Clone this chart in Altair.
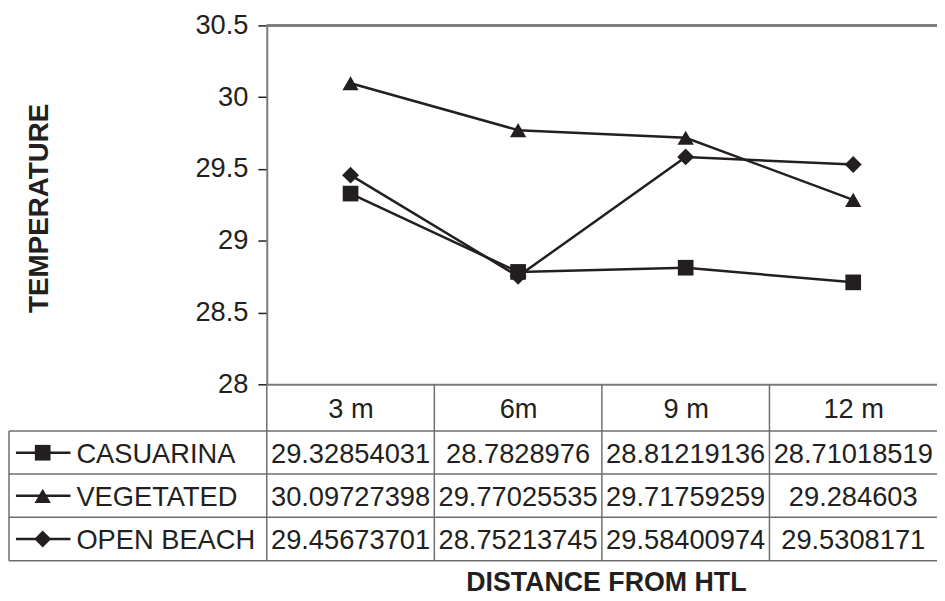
import altair as alt
import pandas as pd

categories = ["3 m", "6m", "9 m", "12 m"]
series = ["CASUARINA", "VEGETATED", "OPEN BEACH"]
casuarina = [29.32854031, 28.7828976, 28.81219136, 28.71018519]
vegetated = [30.09727398, 29.77025535, 29.71759259, 29.284603]
open_beach = [29.45673701, 28.75213745, 29.58400974, 29.5308171]
y_ticks = [28, 28.5, 29, 29.5, 30, 30.5]

rows = []
for s, vals in zip(series, [casuarina, vegetated, open_beach]):
    for c, v in zip(categories, vals):
        rows.append({"category": c, "series": s, "value": v})
df = pd.DataFrame(rows)
ser_df = pd.DataFrame({"series": series})
cat_df = pd.DataFrame({"category": categories})

INK = "#231f20"
GRID = "#6e6e6e"
AX = "#7a7a7a"
FONT = "Liberation Sans"
FS = 27.5

W, H = 676, 362
HALF = W / len(categories) / 2

xscale = alt.Scale(type="point", domain=categories, padding=0.5)
yscale = alt.Scale(domain=[28, 30.5], nice=False, zero=False)
rowscale = alt.Scale(type="point", domain=series, range=[431, 518], padding=0)
shape_scale = alt.Scale(domain=series, range=["square", "triangle-up", "diamond"])
size_scale = alt.Scale(domain=series, range=[250, 290, 230])

x_enc = alt.X("category:N", scale=xscale, sort=categories,
              axis=alt.Axis(title="DISTANCE FROM HTL", titleFont=FONT, titleFontSize=27,
                            titleFontWeight="bold", titleColor=INK, titleY=200,
                            titleX=342, titleBaseline="middle", titleAlign="center",
                            labelFont=FONT, labelFontSize=FS, labelColor=INK,
                            labelBaseline="middle", labelPadding=25, labelAngle=0,
                            ticks=False, domainColor=AX, domainWidth=2, grid=False))

lines = alt.Chart(df).mark_line(color=INK, strokeWidth=2.5).encode(
    x=x_enc,
    y=alt.Y("value:Q", scale=yscale,
            axis=alt.Axis(values=y_ticks, format="~g", title="TEMPERATURE",
                          titleFont=FONT, titleFontSize=28, titleFontWeight="bold",
                          titleColor=INK, titleAngle=270, titleX=-229, titleY=184,
                          titleAlign="center", titleBaseline="middle",
                          labelFont=FONT, labelFontSize=FS, labelColor=INK,
                          labelPadding=10, tickSize=9, tickColor=INK, tickWidth=1.5,
                          domainColor=AX, domainWidth=2, grid=False)),
    detail="series:N",
)

points = alt.Chart(df).mark_point(filled=True, opacity=1, color=INK).encode(
    x=alt.X("category:N", scale=xscale, sort=categories),
    y=alt.Y("value:Q", scale=yscale, axis=None),
    shape=alt.Shape("series:N", scale=shape_scale, legend=None),
    size=alt.Size("series:N", scale=size_scale, legend=None),
)

top_border = alt.Chart(cat_df).mark_rule(color=AX, strokeWidth=2).encode(
    y=alt.Y("top:Q", scale=yscale, axis=None),
    x=alt.value(0), x2=alt.value(W),
).transform_calculate(top="30.5")

row_lines = alt.Chart(ser_df).mark_rule(color=GRID, strokeWidth=1.5, yOffset=-22).encode(
    y=alt.Y("series:N", scale=rowscale, axis=None),
    x=alt.value(-260), x2=alt.value(W),
)
bottom_line = alt.Chart(ser_df).transform_filter(
    alt.datum.series == series[-1]
).mark_rule(color=GRID, strokeWidth=1.5, yOffset=22).encode(
    y=alt.Y("series:N", scale=rowscale, axis=None),
    x=alt.value(-260), x2=alt.value(W),
)
left_border = alt.Chart(ser_df).transform_filter(
    alt.datum.series == series[0]
).mark_rule(color=GRID, strokeWidth=1.5).encode(
    x=alt.value(-260), y=alt.value(409), y2=alt.value(540),
)
col_lines = alt.Chart(cat_df).mark_rule(color=GRID, strokeWidth=1.5, xOffset=-HALF).encode(
    x=alt.X("category:N", scale=xscale, sort=categories),
    y=alt.value(H), y2=alt.value(540),
)

cell_text = alt.Chart(df).mark_text(font=FONT, fontSize=FS, color=INK, dy=2,
                                    baseline="middle", align="center").encode(
    x=alt.X("category:N", scale=xscale, sort=categories),
    y=alt.Y("series:N", scale=rowscale, axis=None),
    text=alt.Text("value:Q", format=".10~g"),
)

row_labels = alt.Chart(ser_df).mark_text(font=FONT, fontSize=FS, color=INK, dy=2,
                                         baseline="middle", align="left").encode(
    x=alt.value(-192),
    y=alt.Y("series:N", scale=rowscale, axis=None),
    text="series:N",
)
legend_lines = alt.Chart(ser_df).mark_rule(color=INK, strokeWidth=2.5).encode(
    x=alt.value(-253), x2=alt.value(-198),
    y=alt.Y("series:N", scale=rowscale, axis=None),
)
legend_points = alt.Chart(ser_df).mark_point(filled=True, opacity=1, color=INK).encode(
    x=alt.value(-226),
    y=alt.Y("series:N", scale=rowscale, axis=None),
    shape=alt.Shape("series:N", scale=shape_scale, legend=None),
    size=alt.Size("series:N", scale=size_scale, legend=None),
)

chart = alt.layer(
    lines, top_border, row_lines, bottom_line, left_border, col_lines,
    cell_text, row_labels, legend_lines, points, legend_points,
).resolve_scale(y="independent").properties(
    width=W, height=H,
    autosize=alt.AutoSizeParams(type="none"),
    padding={"left": 261, "top": 15, "right": 0, "bottom": 216},
    background="white",
).configure_view(stroke=None)

chart.save("out.html", embed_options={"renderer": "svg", "actions": False})
